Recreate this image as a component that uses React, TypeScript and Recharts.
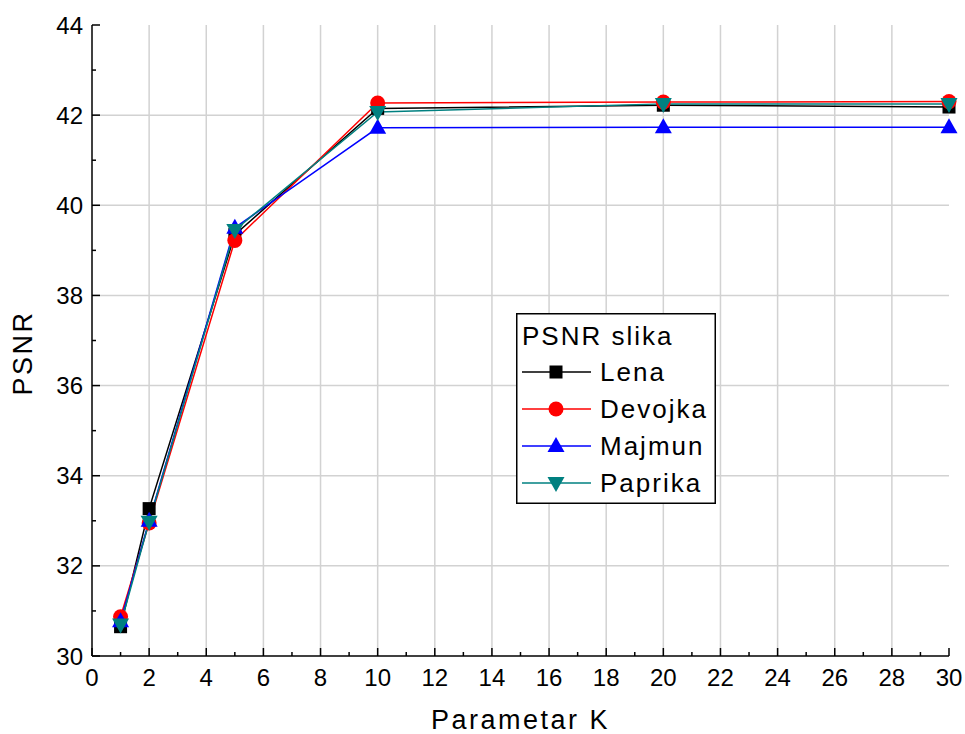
import React from 'react'
import {
  LineChart, Line, XAxis, YAxis, CartesianGrid, Legend,
} from 'recharts'

// values
const K = [1, 2, 5, 10, 20, 30]
const LENA = [30.65, 33.27, 39.35, 42.15, 42.22, 42.18]
const DEVOJKA = [30.87, 32.95, 39.22, 42.27, 42.29, 42.3]
const MAJMUN = [30.77, 33.0, 39.5, 41.72, 41.73, 41.73]
const PAPRIKA = [30.7, 32.98, 39.45, 42.07, 42.25, 42.25]

const X_TICKS = Array.from({ length: 31 }, (_, i) => i)
const Y_TICKS = Array.from({ length: 15 }, (_, i) => 30 + i)
const GRID_X = [2, 4, 6, 8, 10, 12, 14, 16, 18, 20, 22, 24, 26, 28]
const GRID_Y = [32, 34, 36, 38, 40, 42]

const SERIES = [
  { key: 'lena', name: 'Lena', color: '#000000', shape: 'square', values: LENA },
  { key: 'devojka', name: 'Devojka', color: '#ff0000', shape: 'circle', values: DEVOJKA },
  { key: 'majmun', name: 'Majmun', color: '#0000ff', shape: 'up', values: MAJMUN },
  { key: 'paprika', name: 'Paprika', color: '#008080', shape: 'down', values: PAPRIKA },
]

const data = K.map((k, i) => {
  const row: any = { k }
  SERIES.forEach((s) => { row[s.key] = s.values[i] })
  return row
})

const FONT = '"Liberation Sans", Arial, sans-serif'

function Marker({ shape, color, cx, cy }: any) {
  if (shape === 'square') return <rect x={cx - 6.5} y={cy - 6.5} width={13} height={13} fill={color} />
  if (shape === 'circle') return <circle cx={cx} cy={cy} r={7.5} fill={color} />
  if (shape === 'up') return <polygon points={`${cx},${cy - 9} ${cx - 8.5},${cy + 6} ${cx + 8.5},${cy + 6}`} fill={color} />
  return <polygon points={`${cx - 8.5},${cy - 6} ${cx + 8.5},${cy - 6} ${cx},${cy + 9}`} fill={color} />
}

const makeDot = (shape: string, color: string) => (p: any) => (
  <Marker key={`${shape}-${p.index}`} shape={shape} color={color} cx={p.cx} cy={p.cy} />
)

// ticks point inwards; even values are major and labelled
const BottomTick = ({ x, y, payload }: any) => {
  const major = payload.value % 2 === 0
  return (
    <g>
      <line x1={x} y1={y} x2={x} y2={y - (major ? 8 : 4)} stroke="#000" strokeWidth={1.5} />
      {major && (
        <text x={x} y={y + 30} textAnchor="middle" fontSize={24} fontFamily={FONT} fill="#000">
          {payload.value}
        </text>
      )}
    </g>
  )
}

const TopTick = ({ x, y, payload }: any) => {
  const major = payload.value % 2 === 0
  return <line x1={x} y1={y} x2={x} y2={y + (major ? 8 : 4)} stroke="#000" strokeWidth={1.5} />
}

const LeftTick = ({ x, y, payload }: any) => {
  const major = payload.value % 2 === 0
  return (
    <g>
      <line x1={x} y1={y} x2={x + (major ? 8 : 4)} y2={y} stroke="#000" strokeWidth={1.5} />
      {major && (
        <text x={x - 9} y={y} dy="0.36em" textAnchor="end" fontSize={24} fontFamily={FONT} fill="#000">
          {payload.value}
        </text>
      )}
    </g>
  )
}

const RightTick = ({ x, y, payload }: any) => {
  const major = payload.value % 2 === 0
  return <line x1={x} y1={y} x2={x - (major ? 8 : 4)} y2={y} stroke="#000" strokeWidth={1.5} />
}

const LegendBox = () => (
  <svg width={200} height={191} style={{ display: 'block' }}>
    <rect x={0.75} y={0.75} width={198.5} height={189.5} fill="#fff" stroke="#000" strokeWidth={1.5} />
    <text x={6} y={32} fontSize={26} fontFamily={FONT} letterSpacing={2} fill="#000">PSNR slika</text>
    {SERIES.map((s, i) => {
      const cy = 59 + i * 37
      return (
        <g key={s.key}>
          <line x1={6} x2={75} y1={cy} y2={cy} stroke={s.color} strokeWidth={1.5} />
          <Marker shape={s.shape} color={s.color} cx={40} cy={cy} />
          <text x={84} y={cy} dy="0.36em" fontSize={26} fontFamily={FONT} letterSpacing={2} fill="#000">
            {s.name}
          </text>
        </g>
      )
    })}
  </svg>
)

export default function App() {
  return (
    <div style={{ width: 965, height: 734, background: '#fff' }}>
      <style>{'body{margin:0}'}</style>
      <LineChart
        width={965}
        height={734}
        data={data}
        margin={{ top: 25, right: 16, bottom: 0, left: 0 }}
      >
        <CartesianGrid
          stroke="#d2d2d2"
          strokeWidth={1.5}
          verticalValues={GRID_X}
          horizontalValues={GRID_Y}
        />
        <XAxis
          dataKey="k"
          type="number"
          domain={[0, 30]}
          ticks={X_TICKS}
          interval={0}
          height={78}
          tickSize={0}
          tickMargin={0}
          tickLine={false}
          tick={<BottomTick />}
          axisLine={{ stroke: '#000', strokeWidth: 1.5 }}
          label={{
            value: 'Parametar K',
            position: 'insideBottom',
            offset: 5,
            fontSize: 27,
            fontFamily: FONT,
            fill: '#000',
            letterSpacing: 2.5,
          }}
        />
        <XAxis
          xAxisId="top"
          orientation="top"
          dataKey="k"
          type="number"
          domain={[0, 30]}
          ticks={X_TICKS}
          interval={0}
          height={0}
          tickSize={0}
          tickMargin={0}
          tickLine={false}
          tick={<TopTick />}
          axisLine={{ stroke: '#000', strokeWidth: 1.5 }}
        />
        <YAxis
          type="number"
          domain={[30, 44]}
          ticks={Y_TICKS}
          interval={0}
          width={92}
          tickSize={0}
          tickMargin={0}
          tickLine={false}
          tick={<LeftTick />}
          axisLine={{ stroke: '#000', strokeWidth: 1.5 }}
          label={{
            value: 'PSNR',
            angle: -90,
            position: 'insideLeft',
            offset: 22,
            dy: 55,
            fontSize: 27,
            fontFamily: FONT,
            fill: '#000',
            letterSpacing: 2.5,
          }}
        />
        <YAxis
          yAxisId="right"
          orientation="right"
          type="number"
          domain={[30, 44]}
          ticks={Y_TICKS}
          interval={0}
          width={0}
          tickSize={0}
          tickMargin={0}
          tickLine={false}
          tick={<RightTick />}
          axisLine={{ stroke: '#000', strokeWidth: 1.5 }}
        />
        <Legend
          layout="vertical"
          align="center"
          verticalAlign="middle"
          content={<LegendBox />}
          wrapperStyle={{ position: 'absolute', left: 516, top: 313, width: 200, height: 191 }}
        />
        {SERIES.map((s) => (
          <Line
            key={s.key}
            dataKey={s.key}
            name={s.name}
            type="linear"
            stroke={s.color}
            strokeWidth={1.5}
            dot={makeDot(s.shape, s.color)}
            activeDot={false}
            isAnimationActive={false}
          />
        ))}
      </LineChart>
    </div>
  )
}
